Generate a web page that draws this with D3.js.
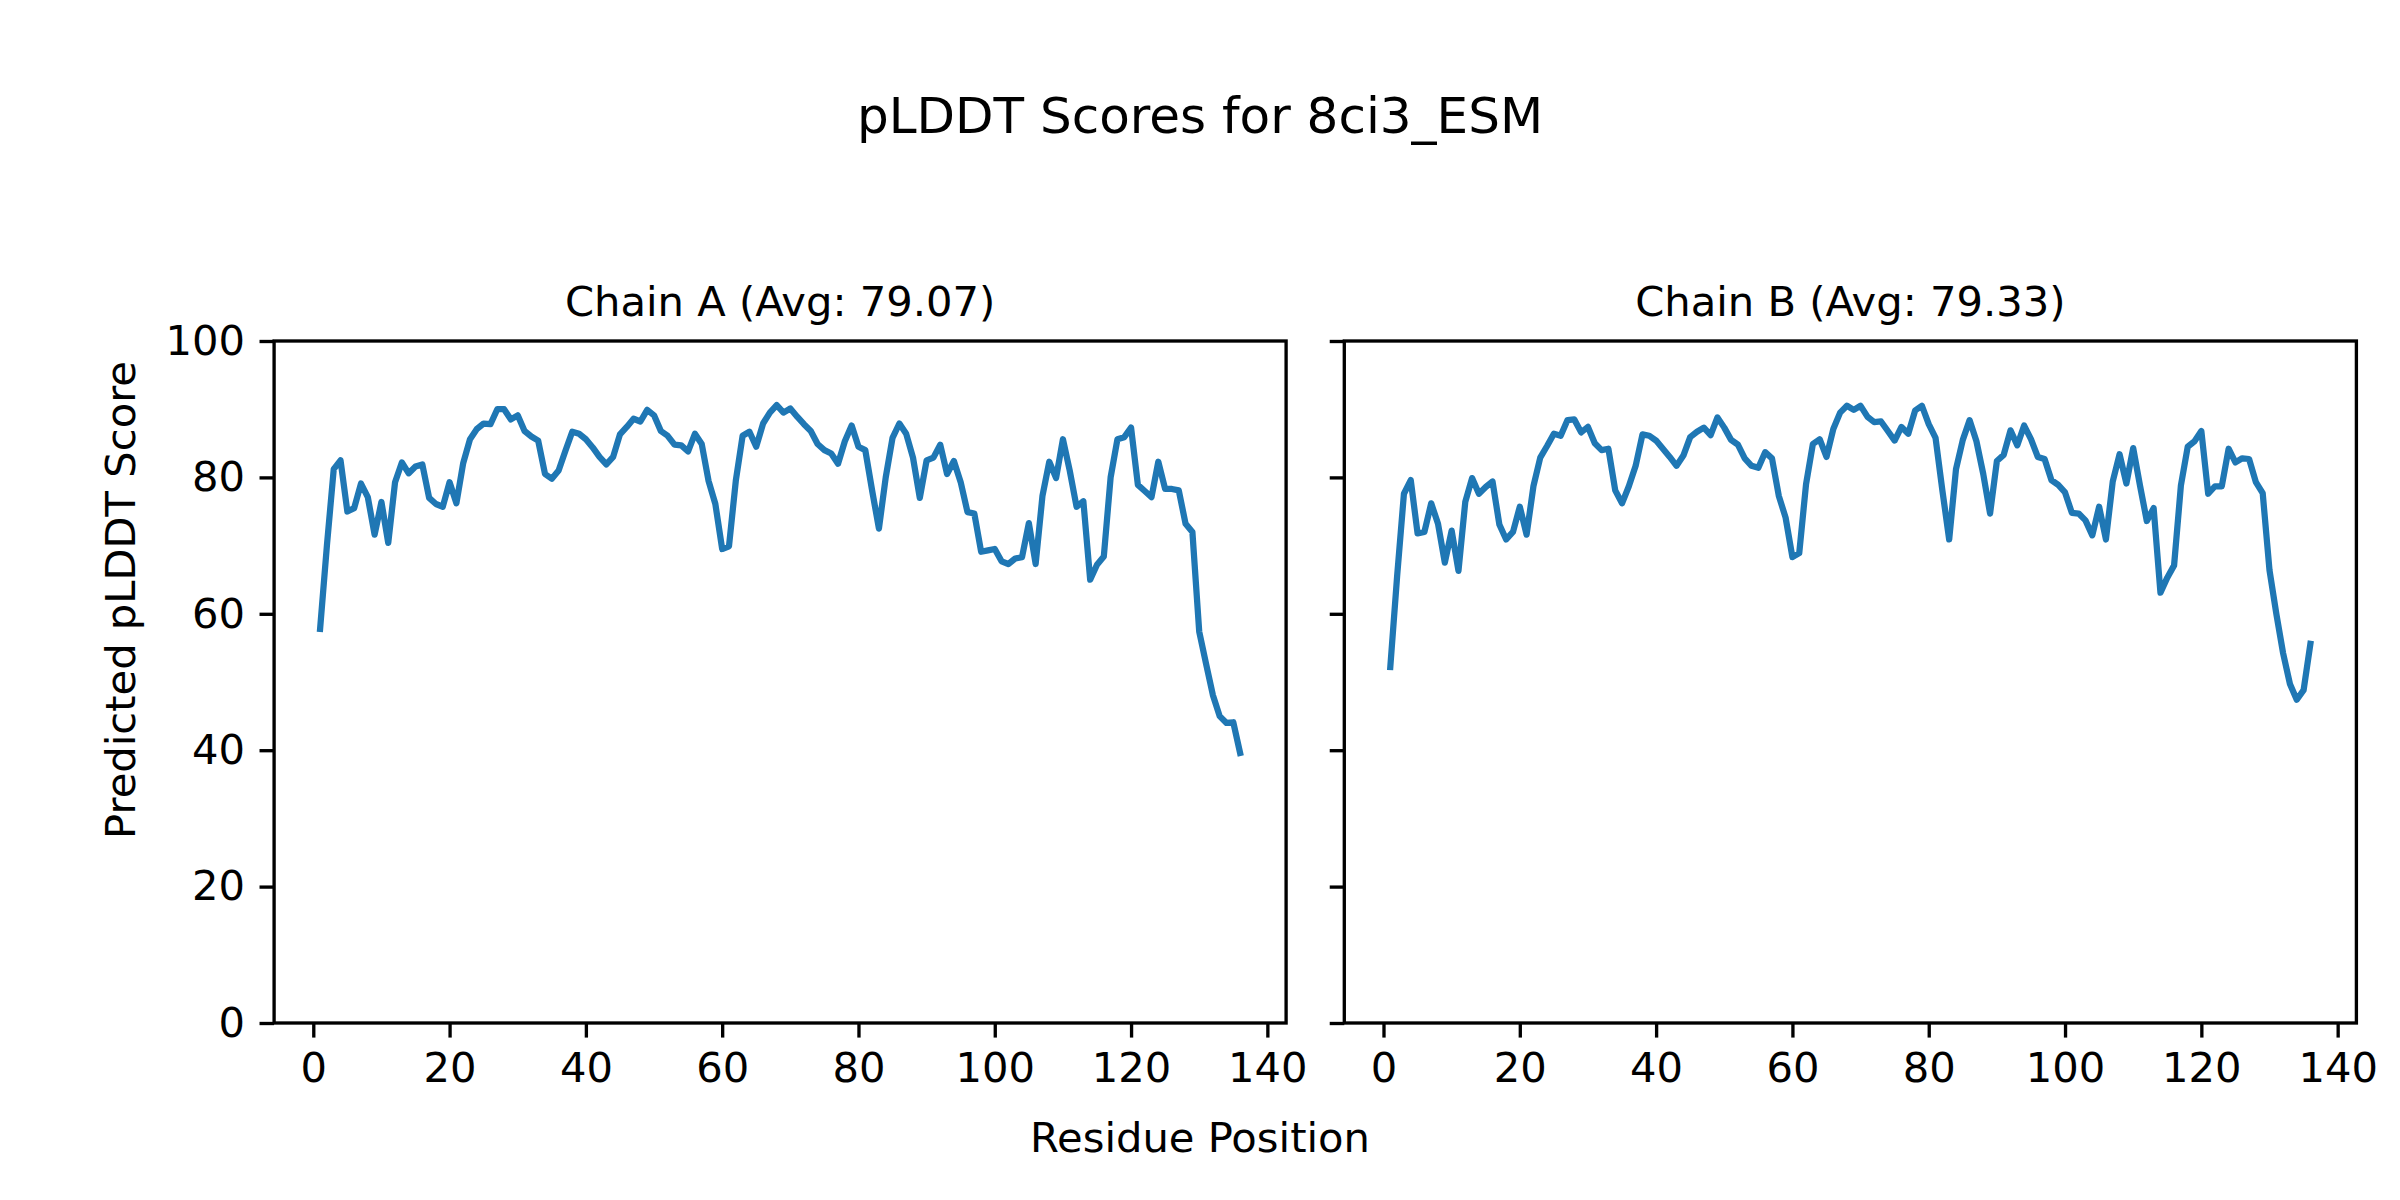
<!DOCTYPE html>
<html>
<head>
<meta charset="utf-8">
<script src="https://cdn.jsdelivr.net/npm/d3@7"></script>
<style>
  body { margin: 0; background: #fff; }
  svg text { font-family: "DejaVu Sans", sans-serif; fill: #000; }
</style>
</head>
<body>
<div id="chart"></div>
<script>
// pLDDT per residue
const chainA = [
  57.8, 70.0, 81.2, 82.5, 75.0, 75.5, 79.1, 77.1, 71.6, 76.4,
  70.4, 79.3, 82.2, 80.6, 81.6, 81.9, 77.0, 76.1, 75.7, 79.3,
  76.2, 82.1, 85.6, 87.1, 87.9, 87.8, 90.0, 90.0, 88.5, 89.1,
  86.8, 86.0, 85.4, 80.5, 79.8, 81.0, 83.9, 86.7, 86.4, 85.6,
  84.4, 83.0, 81.9, 83.0, 86.3, 87.4, 88.6, 88.2, 89.9, 89.1,
  86.8, 86.1, 84.8, 84.7, 83.8, 86.4, 84.9, 79.5, 76.1, 69.5,
  69.9, 79.5, 86.1, 86.7, 84.5, 87.9, 89.5, 90.6, 89.5, 90.1,
  88.9, 87.8, 86.8, 84.9, 84.0, 83.5, 82.0, 85.3, 87.6, 84.5,
  84.0, 78.1, 72.5, 80.0, 85.8, 87.9, 86.4, 82.9, 77.0, 82.5,
  82.9, 84.8, 80.5, 82.4, 79.3, 74.9, 74.7, 69.1, 69.3, 69.5,
  67.7, 67.3, 68.1, 68.3, 73.3, 67.3, 77.3, 82.3, 79.9, 85.6,
  81.0, 75.7, 76.5, 65.0, 67.2, 68.4, 80.0, 85.6, 85.9, 87.3,
  78.9, 78.0, 77.1, 82.3, 78.3, 78.3, 78.1, 73.2, 72.0, 57.4,
  52.7, 48.1, 45.0, 44.0, 44.1, 39.6
];
const chainB = [
  52.2, 65.5, 77.6, 79.6, 71.8, 72.0, 76.2, 73.2, 67.5, 72.2,
  66.3, 76.4, 79.9, 77.6, 78.6, 79.4, 73.1, 70.9, 72.0, 75.7,
  71.6, 78.7, 82.9, 84.6, 86.4, 86.1, 88.4, 88.5, 86.6, 87.4,
  85.0, 84.0, 84.2, 78.1, 76.2, 78.7, 81.7, 86.3, 86.1, 85.4,
  84.2, 83.0, 81.7, 83.2, 85.9, 86.7, 87.3, 86.2, 88.8, 87.3,
  85.5, 84.8, 82.8, 81.7, 81.4, 83.7, 82.8, 77.3, 74.1, 68.3,
  68.9, 79.0, 84.9, 85.6, 83.0, 87.1, 89.5, 90.5, 89.9, 90.5,
  88.9, 88.1, 88.2, 86.8, 85.4, 87.4, 86.4, 89.8, 90.5, 87.8,
  85.8, 78.1, 70.9, 81.2, 85.5, 88.4, 85.3, 80.5, 74.7, 82.4,
  83.3, 86.9, 84.7, 87.6, 85.6, 83.0, 82.7, 79.6, 78.9, 77.8,
  74.8, 74.7, 73.7, 71.5, 75.7, 70.9, 79.4, 83.4, 79.1, 84.3,
  78.8, 73.6, 75.5, 63.1, 65.3, 67.1, 78.8, 84.5, 85.3, 86.8,
  77.6, 78.7, 78.7, 84.2, 82.2, 82.8, 82.7, 79.3, 77.7, 66.4,
  60.0, 54.2, 49.7, 47.4, 48.8, 55.6
];
const chainNames = ["Chain A (Avg: 79.07)", "Chain B (Avg: 79.33)"];
const xTicks = [0, 20, 40, 60, 80, 100, 120, 140];
const yTicks = [0, 20, 40, 60, 80, 100];

const W = 2400, H = 1200;
const pt = 300 / 72;          // figure was 300 dpi
const fontSize = 10 * pt;
const lineColor = "#1f77b4";

const svg = d3.select("#chart").append("svg")
    .attr("width", W)
    .attr("height", H);

// panel boxes in pixels
const panels = [
  { left: 274.1, right: 1286.1, data: chainA, title: chainNames[0], labels: true },
  { left: 1344.3, right: 2356.4, data: chainB, title: chainNames[1], labels: false }
];
const plotTop = 341, plotBottom = 1023;

const n = chainA.length;
const xPad = (n - 1) * 0.05;
const y = d3.scaleLinear().domain([0, 100]).range([plotBottom, plotTop]);

panels.forEach(function(p) {
  const x = d3.scaleLinear()
      .domain([1 - xPad, n + xPad])
      .range([p.left, p.right]);

  const g = svg.append("g");

  // line
  const line = d3.line()
      .x(function(d, i) { return x(i + 1); })
      .y(function(d) { return y(d); });

  g.append("path")
    .datum(p.data)
    .attr("d", line)
    .attr("fill", "none")
    .attr("stroke", lineColor)
    .attr("stroke-width", 1.5 * pt)
    .attr("stroke-linejoin", "round")
    .attr("stroke-linecap", "square");

  // axes
  const xAxis = d3.axisBottom(x)
      .tickValues(xTicks)
      .tickSize(3.5 * pt)
      .tickSizeOuter(0)
      .tickPadding(3.5 * pt);
  const yAxis = d3.axisLeft(y)
      .tickValues(yTicks)
      .tickSize(3.5 * pt)
      .tickSizeOuter(0)
      .tickPadding(3.5 * pt);
  if (!p.labels) yAxis.tickFormat("");

  const gx = g.append("g")
      .attr("transform", "translate(0," + plotBottom + ")")
      .call(xAxis);
  const gy = g.append("g")
      .attr("transform", "translate(" + p.left + ",0)")
      .call(yAxis);

  [gx, gy].forEach(function(a) {
    a.attr("font-family", null).attr("font-size", null);
    a.select(".domain").remove();
    a.selectAll(".tick line")
      .attr("stroke", "#000")
      .attr("stroke-width", 0.8 * pt);
    a.selectAll(".tick text")
      .style("font-size", fontSize + "px")
      .attr("fill", "#000");
  });

  // spines
  g.append("rect")
    .attr("x", p.left)
    .attr("y", plotTop)
    .attr("width", p.right - p.left)
    .attr("height", plotBottom - plotTop)
    .attr("fill", "none")
    .attr("stroke", "#000")
    .attr("stroke-width", 0.8 * pt);

  // panel title
  g.append("text")
    .attr("x", (p.left + p.right) / 2)
    .attr("y", plotTop - 6 * pt)
    .attr("text-anchor", "middle")
    .style("font-size", fontSize + "px")
    .text(p.title);
});

// figure title and shared labels
svg.append("text")
  .attr("x", W / 2)
  .attr("y", 133)
  .attr("text-anchor", "middle")
  .style("font-size", 12 * pt + "px")
  .text("pLDDT Scores for 8ci3_ESM");

svg.append("text")
  .attr("x", W / 2)
  .attr("y", 1152)
  .attr("text-anchor", "middle")
  .style("font-size", fontSize + "px")
  .text("Residue Position");

svg.append("text")
  .attr("transform", "translate(135," + H / 2 + ") rotate(-90)")
  .attr("text-anchor", "middle")
  .style("font-size", fontSize + "px")
  .text("Predicted pLDDT Score");
</script>
</body>
</html>
